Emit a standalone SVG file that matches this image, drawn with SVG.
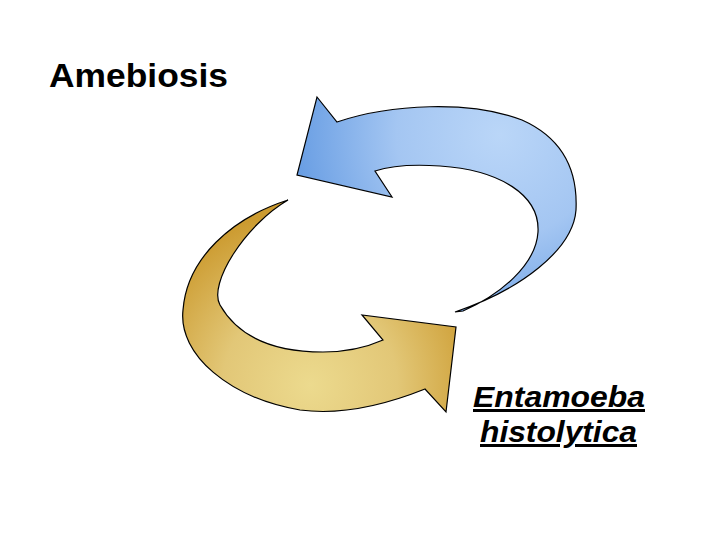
<svg xmlns="http://www.w3.org/2000/svg" width="720" height="540" viewBox="0 0 720 540">
<defs>
<radialGradient id="gBlue" gradientUnits="userSpaceOnUse" cx="500" cy="135" r="230">
<stop offset="0" stop-color="#BAD6F8"/>
<stop offset="0.45" stop-color="#A4C6F2"/>
<stop offset="1" stop-color="#5A94E0"/>
</radialGradient>
<radialGradient id="gGold" gradientUnits="userSpaceOnUse" cx="310" cy="385" r="175">
<stop offset="0" stop-color="#ECDA8E"/>
<stop offset="0.5" stop-color="#E2C777"/>
<stop offset="1" stop-color="#CC9B30"/>
</radialGradient>
<style>
.arrow{stroke:#000;stroke-width:1.2;stroke-linejoin:miter}
.t{font-family:"Liberation Sans",Arial,sans-serif;fill:#000;font-weight:bold}
</style>
</defs>
<rect width="720" height="540" fill="#fff"/>
<g id="connectors">
<path id="blue-arrow" class="arrow" fill="url(#gBlue)" d="M317,97 L337,122 C390,104 470,100 522,120 C560,137 578,168 576,210 C573,250 520,290 455,312 L463,311 C500,295 536,265 538,232 C540,195 500,170 440,166 C410,164 390,166 375,171 L392,197 L297,175 Z"/>
<path id="gold-arrow" class="arrow" fill="url(#gGold)" d="M288,200 C232,218 187,258 183,310 C178,355 230,398 300,410 C345,416 390,403 425,389 L446,412 L456,327 L362,315 L383,340 C365,348 345,352 323,352 C280,352 240,340 220,305 C208,284 245,225 288,200 Z"/>
</g>
<g id="title">
<text class="t" x="49" y="87" font-size="33" textLength="179" lengthAdjust="spacingAndGlyphs">Amebiosis</text>
</g>
<g id="label">
<text class="t" x="473" y="407" font-size="30" font-style="italic" text-decoration="underline" textLength="172" lengthAdjust="spacingAndGlyphs">Entamoeba</text>
<text class="t" x="480" y="442" font-size="30" font-style="italic" text-decoration="underline" textLength="157" lengthAdjust="spacingAndGlyphs">histolytica</text>
</g>
</svg>
